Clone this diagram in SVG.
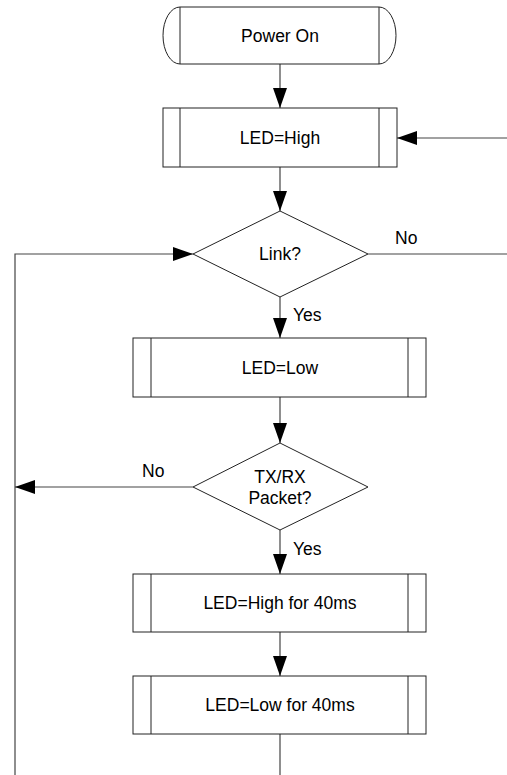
<svg xmlns="http://www.w3.org/2000/svg" width="507" height="775" viewBox="0 0 507 775">
<style>
.box{fill:#fff;stroke:#222;stroke-width:1}
.in{stroke:#222;stroke-width:1;fill:none}
.ln{stroke:#444;stroke-width:1.2;fill:none}
.t{font-family:"Liberation Sans",Arial,sans-serif;font-size:17.5px;fill:#000}
.c{text-anchor:middle}
</style>
<defs>
<marker id="ah" markerUnits="userSpaceOnUse" markerWidth="21" markerHeight="14" refX="20" refY="7" orient="auto">
<path d="M0,0 L20,7 L0,14 z" fill="#000"/>
</marker>
</defs>
<rect width="507" height="775" fill="#fff"/>
<g id="connectors">
<line class="ln" x1="280" y1="64" x2="280" y2="108" marker-end="url(#ah)"/>
<line class="ln" x1="507" y1="138" x2="397" y2="138" marker-end="url(#ah)"/>
<line class="ln" x1="280" y1="167" x2="280" y2="211" marker-end="url(#ah)"/>
<line class="ln" x1="368" y1="254" x2="507" y2="254"/>
<polyline class="ln" points="15,775 15,254 193,254" marker-end="url(#ah)"/>
<line class="ln" x1="280" y1="297" x2="280" y2="338" marker-end="url(#ah)"/>
<line class="ln" x1="280" y1="397" x2="280" y2="443" marker-end="url(#ah)"/>
<line class="ln" x1="193" y1="487" x2="15" y2="487" marker-end="url(#ah)"/>
<line class="ln" x1="280" y1="530" x2="280" y2="574" marker-end="url(#ah)"/>
<line class="ln" x1="280" y1="632" x2="280" y2="676" marker-end="url(#ah)"/>
<line class="ln" x1="280" y1="734" x2="280" y2="775"/>
<text class="t" x="395" y="244">No</text>
<text class="t" x="293" y="321">Yes</text>
<text class="t" x="142" y="477">No</text>
<text class="t" x="293" y="555">Yes</text>
</g>
<g id="power-on">
<path class="box" d="M180,7 L379,7 A17,28.5 0 0 1 379,64 L180,64 A17,28.5 0 0 1 180,7 Z"/>
<line class="in" x1="180" y1="7" x2="180" y2="64"/>
<line class="in" x1="379" y1="7" x2="379" y2="64"/>
<text class="t c" x="280" y="41.5">Power On</text>
</g>
<g id="led-high">
<rect class="box" x="163" y="108" width="234" height="59"/>
<line class="in" x1="180" y1="108" x2="180" y2="167"/>
<line class="in" x1="379" y1="108" x2="379" y2="167"/>
<text class="t c" x="280" y="143.5">LED=High</text>
</g>
<g id="link">
<polygon class="box" points="280,211 368,254 280,297 193,254"/>
<text class="t c" x="280" y="260">Link?</text>
</g>
<g id="led-low">
<rect class="box" x="133" y="338" width="293" height="59"/>
<line class="in" x1="151" y1="338" x2="151" y2="397"/>
<line class="in" x1="408" y1="338" x2="408" y2="397"/>
<text class="t c" x="280" y="374">LED=Low</text>
</g>
<g id="txrx">
<polygon class="box" points="280,443 368,487 280,530 193,487"/>
<text class="t c" x="280" y="483">TX/RX</text>
<text class="t c" x="280" y="504">Packet?</text>
</g>
<g id="led-high-40">
<rect class="box" x="133" y="574" width="293" height="58"/>
<line class="in" x1="151" y1="574" x2="151" y2="632"/>
<line class="in" x1="408" y1="574" x2="408" y2="632"/>
<text class="t c" x="280" y="609">LED=High for 40ms</text>
</g>
<g id="led-low-40">
<rect class="box" x="133" y="676" width="293" height="58"/>
<line class="in" x1="151" y1="676" x2="151" y2="734"/>
<line class="in" x1="408" y1="676" x2="408" y2="734"/>
<text class="t c" x="280" y="711">LED=Low for 40ms</text>
</g>
</svg>
